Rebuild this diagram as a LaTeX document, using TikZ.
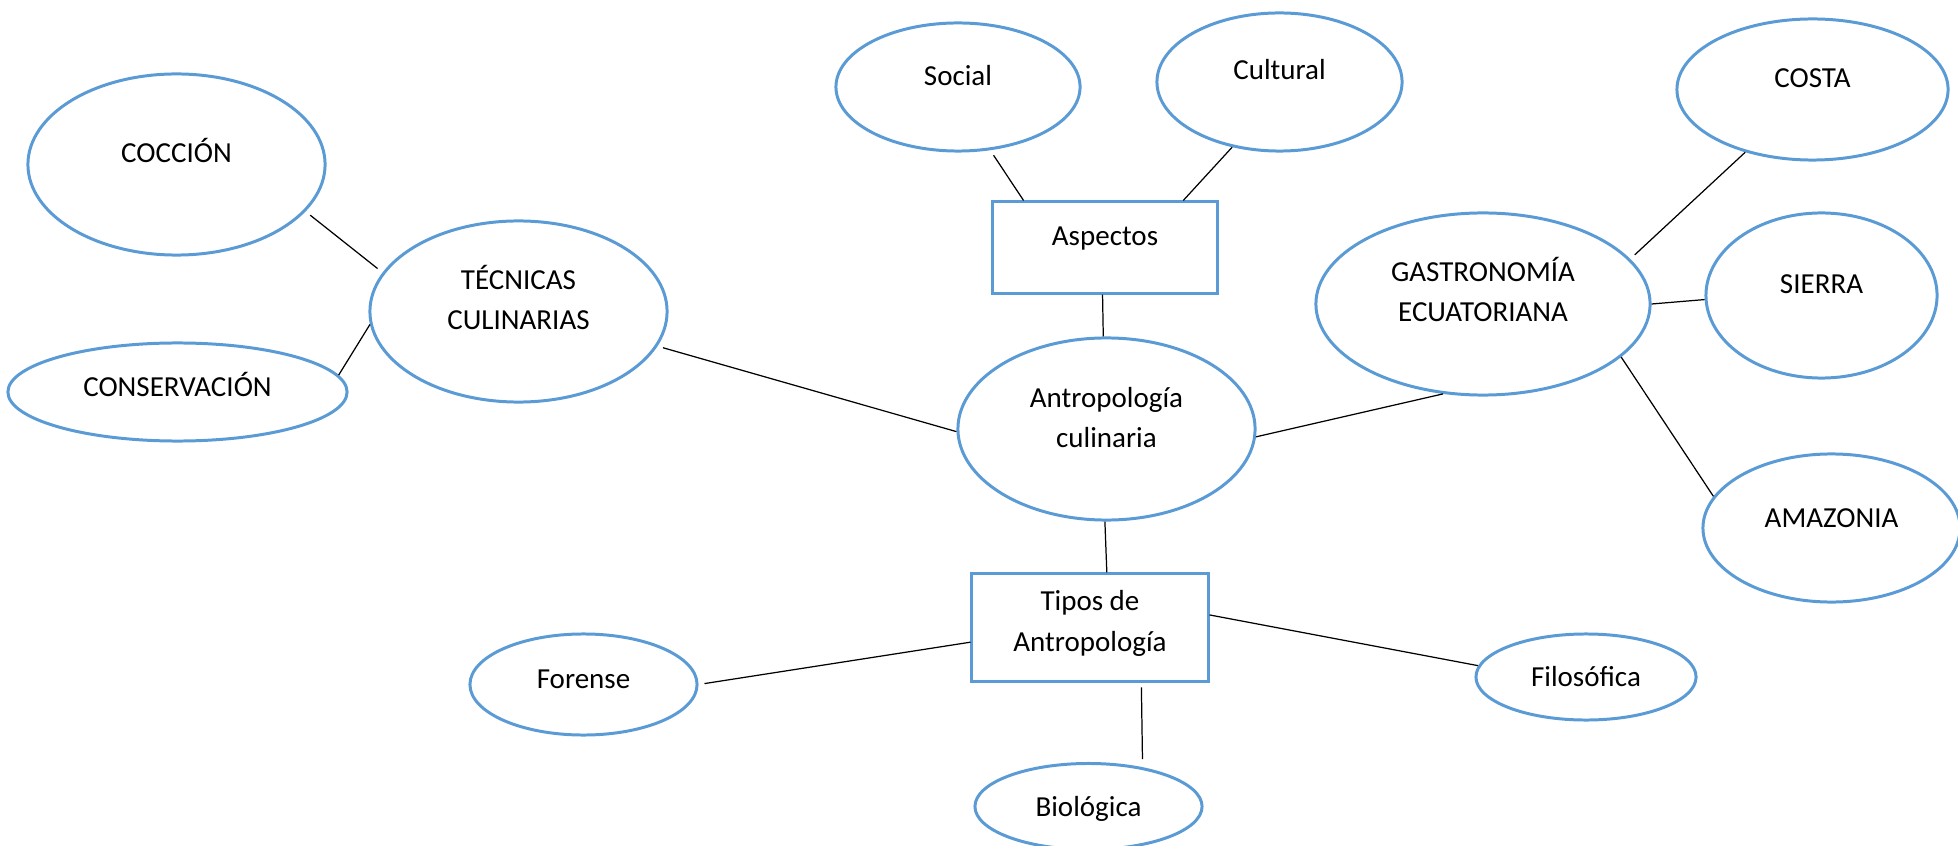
\documentclass[tikz,border=0pt]{standalone}
\usepackage{fontspec}
\setmainfont{Carlito}
\usetikzlibrary{shapes.geometric}
\newlength\pxu
\setlength\pxu{0.01cm}
\newcommand\bl[2]{\raisebox{#1\pxu}[0pt][0pt]{#2}}
\newcommand\twol[2]{\begin{tabular}[b]{@{}c@{}}#1\\#2\end{tabular}}
\definecolor{obl}{HTML}{5B9BD5}
\begin{document}
\begin{tikzpicture}[x=0.01cm,y=-0.01cm,
  txtfont/.style={font=\fontsize{8.25}{11.4}\selectfont},
  oval/.style={ellipse, draw=obl, line width=0.85pt, inner sep=0pt, txtfont},
  box/.style={rectangle, draw=obl, line width=0.85pt, inner sep=0pt, txtfont},
  link/.style={draw=black, line width=0.35pt}]
\useasboundingbox (0,0) rectangle (1958,846);

% nodes
\node[oval, minimum width=2.97cm, minimum height=1.81cm] (cocc) at (176.5,164.5) {\bl{1.5}{COCCIÓN}};
\node[oval, minimum width=3.39cm, minimum height=0.98cm] (cons) at (177.5,392) {\bl{-5}{CONSERVACIÓN}};
\node[oval, minimum width=2.97cm, minimum height=1.81cm] (tec) at (518.5,311.5) {\bl{-18.5}{\twol{TÉCNICAS}{CULINARIAS}}};
\node[oval, minimum width=2.44cm, minimum height=1.28cm] (soc) at (958,87) {\bl{1}{Social}};
\node[oval, minimum width=2.45cm, minimum height=1.38cm] (cult) at (1279.5,82) {\bl{2}{Cultural}};
\node[box, minimum width=2.24cm, minimum height=0.91cm] (asp) at (1105,247.5) {\bl{1.5}{Aspectos}};
\node[oval, minimum width=2.97cm, minimum height=1.82cm] (antro) at (1106.5,429) {\bl{-19}{\twol{Antropología}{culinaria}}};
\node[oval, minimum width=3.34cm, minimum height=1.82cm] (gast) at (1483,304) {\bl{-18}{\twol{GASTRONOMÍA}{ECUATORIANA}}};
\node[oval, minimum width=2.71cm, minimum height=1.41cm] (costa) at (1812.5,89.5) {\bl{1.5}{COSTA}};
\node[oval, minimum width=2.31cm, minimum height=1.65cm] (sierra) at (1821.5,295.5) {\bl{1.5}{SIERRA}};
\node[oval, minimum width=2.57cm, minimum height=1.48cm] (amaz) at (1831.5,528) {\bl{1}{AMAZONIA}};
\node[box, minimum width=2.36cm, minimum height=1.07cm] (tipos) at (1090,627.5) {\bl{-23.5}{\twol{Tipos de}{Antropología}}};
\node[oval, minimum width=2.27cm, minimum height=1.01cm] (fore) at (583.5,684.5) {\bl{-3.5}{Forense}};
\node[oval, minimum width=2.20cm, minimum height=0.86cm] (filo) at (1586,677) {\bl{-9}{Filosófica}};
\node[oval, minimum width=2.27cm, minimum height=0.86cm] (bio) at (1088.5,806.5) {\bl{-9.5}{Biológica}};

% connectors
\draw[link, shorten <=1.7pt, shorten >=1.8pt] (cocc.-20.5) -- (tec.164.4);
\draw[link] (cons.6.8) -- (tec.185.5);
\draw[link, shorten <=1.6pt] (tec.-14.4) -- (antro.181);
\draw[link, shorten <=1.7pt] (soc.-63.4) -- (asp.150.5);
\draw[link] (cult.-126.7) -- (asp.31);
\draw[link] (asp.-93.8) -- (antro.92.8);
\draw[link] (antro.-3.4) -- (gast.-114.8);
\draw[link, shorten <=1.7pt] (gast.17.3) -- (costa.-137.1);
\draw[link] (gast.0.7) -- (sierra.182.2);
\draw[link] (gast.-21.5) -- (amaz.165);
\draw[link] (antro.-91.5) -- (tipos.73.1);
\draw[link, shorten >=1.7pt] (tipos.187.2) -- (fore.-0.7);
\draw[link] (tipos.6) -- (filo.174.8);
\draw[link, shorten <=1.4pt, shorten >=2.3pt] (tipos.-47.5) -- (bio.36);
\end{tikzpicture}
\end{document}
